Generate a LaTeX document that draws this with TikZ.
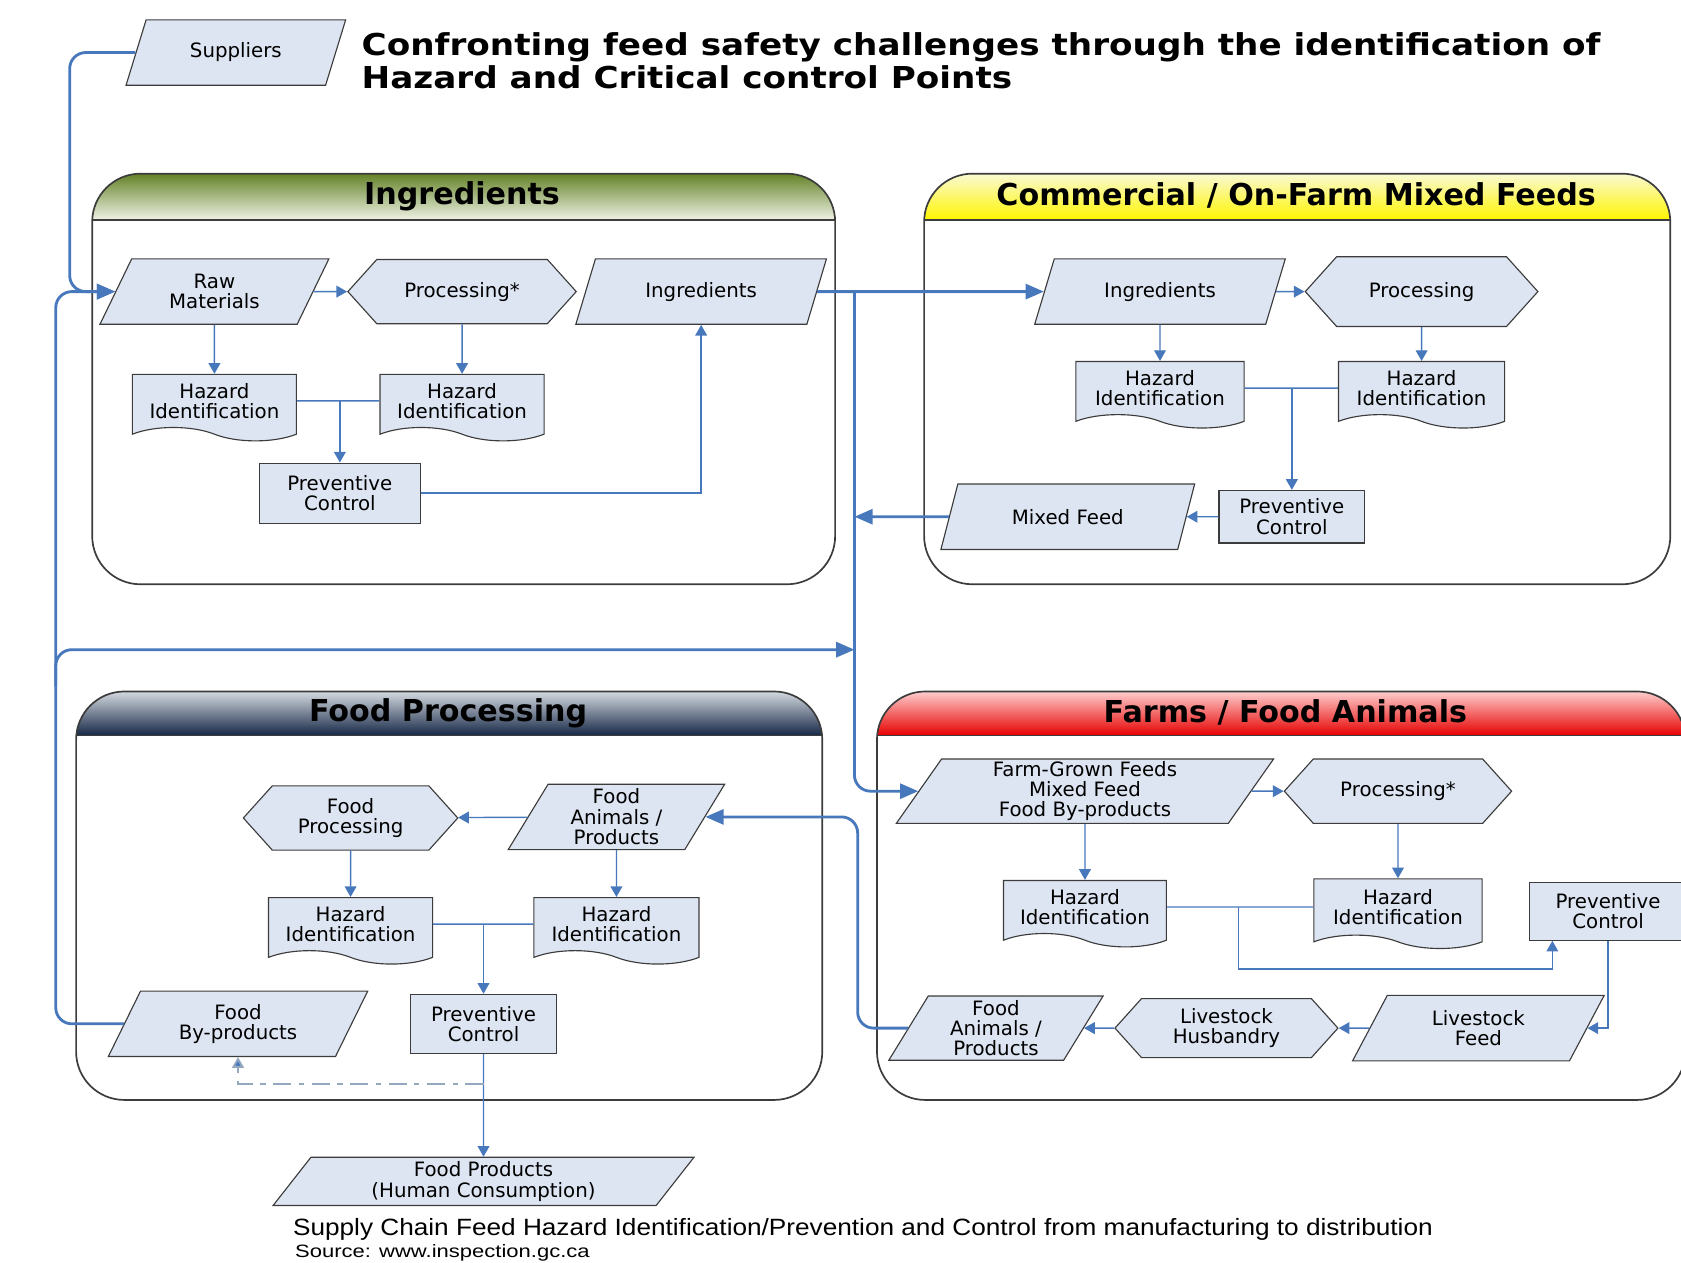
\documentclass[tikz,border=0pt]{standalone}
\usepackage{fontspec}
\setmainfont{DejaVu Sans}
\newfontfamily\capfont{Liberation Sans}
\usetikzlibrary{arrows.meta, shapes.geometric, shapes.symbols}

\definecolor{boxfill}{RGB}{221,229,242}
\definecolor{boxline}{RGB}{60,60,60}
\definecolor{flow}{RGB}{72,120,188}
\definecolor{dashflow}{RGB}{148,168,192}

\tikzset{
	lbl/.style={font=\fontsize{10.5}{10.8}\selectfont, align=center, fill=boxfill, draw=boxline, line width=0.6pt, inner sep=1pt},
	para/.style={lbl, trapezium, trapezium left angle=65, trapezium right angle=115, trapezium stretches=true, minimum height=12.2mm},
	hexa/.style={lbl, signal, signal to=west and east, signal pointer angle=96, minimum height=12mm},
	docu/.style={lbl, tape, tape bend top=none, tape bend bottom=out and in, tape bend height=2.5mm, minimum height=12.4mm},
	pbox/.style={lbl, rectangle, minimum height=11mm},
	link/.style={draw=flow, line width=0.75pt},
	bus/.style={draw=flow, line width=1.5pt, rounded corners=3mm, >={Triangle[length=3.4mm, width=2.8mm]}},
	panel/.style={draw=boxline, line width=0.9pt, rounded corners=9mm},
	head/.style={font=\fontsize{16}{18}\selectfont\bfseries},
}

\begin{document}
\begin{tikzpicture}[x=0.2mm, y=-0.2mm, >={Triangle[length=2mm, width=2.2mm]}]
	\useasboundingbox (0,0) rectangle (1568,1178);

	\node[anchor=west, align=left, inner sep=0pt, font=\fontsize{16}{17.6}\selectfont\bfseries] (title) at (337,57) {\scalebox{1.135}[1]{Confronting feed safety challenges through the identification of}\\\scalebox{1.135}[1]{Hazard and Critical control Points}};

	\begin{scope}
		\clip[rounded corners=9mm] (86,162) rectangle (779,545);
		\shade[top color={rgb,255:red,100;green,130;blue,40}, middle color={rgb,255:red,170;green,190;blue,120}, bottom color={rgb,255:red,238;green,242;blue,228}] (86,162) rectangle (779,205);
	\end{scope}
	\draw[panel] (86,162) rectangle (779,545);
	\draw[boxline, line width=0.9pt] (86,205) -- (779,205);
	\node[head] (inghead) at (431,183) {Ingredients};

	\begin{scope}
		\clip[rounded corners=9mm] (862,162) rectangle (1558,545);
		\shade[top color={rgb,255:red,250;green,250;blue,210}, middle color={rgb,255:red,255;green,250;blue,70}, bottom color={rgb,255:red,255;green,245;blue,0}] (862,162) rectangle (1558,205);
	\end{scope}
	\draw[panel] (862,162) rectangle (1558,545);
	\draw[boxline, line width=0.9pt] (862,205) -- (1558,205);
	\node[head] (mixhead) at (1209,182) {Commercial / On-Farm Mixed Feeds};

	\begin{scope}
		\clip[rounded corners=9mm] (71,645) rectangle (767,1026);
		\shade[top color={rgb,255:red,212;green,217;blue,224}, middle color={rgb,255:red,115;green,130;blue,150}, bottom color={rgb,255:red,22;green,40;blue,70}] (71,645) rectangle (767,686);
	\end{scope}
	\draw[panel] (71,645) rectangle (767,1026);
	\draw[boxline, line width=0.9pt] (71,686) -- (767,686);
	\node[head] (fphead) at (418,665) {Food Processing};

	\begin{scope}
		\clip[rounded corners=9mm] (818,645) rectangle (1572,1026);
		\shade[top color={rgb,255:red,255;green,205;blue,205}, middle color={rgb,255:red,245;green,40;blue,40}, bottom color={rgb,255:red,230;green,0;blue,0}] (818,645) rectangle (1572,686);
	\end{scope}
	\draw[panel] (818,645) rectangle (1572,1026);
	\draw[boxline, line width=0.9pt] (818,686) -- (1572,686);
	\node[head] (farmhead) at (1199,665) {Farms / Food Animals};

	\node[para, minimum width=41mm] (suppl) at (220,49) {Suppliers};

	\node[para, minimum width=42.8mm] (rawmat) at (200,272) {Raw\\Materials};
	\node[hexa, minimum width=42.6mm] (proc1) at (431,272) {Processing*};
	\node[para, minimum width=47mm] (ingr1) at (654,272) {Ingredients};
	\node[docu, minimum width=30.6mm] (haz1) at (200,374) {Hazard\\Identification};
	\node[docu, minimum width=30.6mm] (haz2) at (431,374) {Hazard\\Identification};
	\node[pbox, minimum width=30mm, minimum height=11.2mm] (prev1) at (317,460) {Preventive\\Control};

	\node[para, minimum width=47mm] (ingr2) at (1082,272) {Ingredients};
	\node[hexa, minimum width=43.4mm, minimum height=13mm] (proc2) at (1326,272) {Processing};
	\node[docu, minimum width=31.4mm] (haz3) at (1082,362) {Hazard\\Identification};
	\node[docu, minimum width=31mm] (haz4) at (1326,362) {Hazard\\Identification};
	\node[pbox, minimum width=27.2mm, minimum height=9.8mm] (prev2) at (1205,482) {Preventive\\Control};
	\node[para, minimum width=47.4mm] (mixfeed) at (996,482) {Mixed Feed};

	\node[hexa, minimum width=40mm] (foodproc) at (327,763) {Food\\Processing};
	\node[para, minimum width=40.6mm] (fanim1) at (575,762) {Food\\Animals /\\Products};
	\node[docu, minimum width=30.6mm] (haz5) at (327,862) {Hazard\\Identification};
	\node[docu, minimum width=30.8mm] (haz6) at (575,862) {Hazard\\Identification};
	\node[pbox, minimum width=27.2mm] (prev3) at (451,955) {Preventive\\Control};
	\node[para, minimum width=48.8mm] (byprod) at (222,955) {Food\\By-products};
	\node[para, trapezium left angle=60, trapezium right angle=120, minimum width=78.6mm, minimum height=9mm] (foodprod) at (451,1102) {Food Products\\(Human Consumption)};

	\node[para, minimum width=70.4mm, minimum height=12mm] (farmfeed) at (1012,738) {Farm-Grown Feeds\\Mixed Feed\\Food By-products};
	\node[hexa, minimum width=42.4mm] (proc3) at (1304,738) {Processing*};
	\node[docu, minimum width=30.4mm] (haz7) at (1012,846) {Hazard\\Identification};
	\node[docu, minimum width=31.4mm, minimum height=13mm] (haz8) at (1304,846) {Hazard\\Identification};
	\node[pbox, minimum width=29.4mm, minimum height=10.8mm] (prev4) at (1500,850) {Preventive\\Control};
	\node[para, minimum width=40.2mm, minimum height=12mm] (fanim2) at (929,959) {Food\\Animals /\\Products};
	\node[hexa, minimum width=41.6mm, minimum height=11mm] (husb) at (1144,959) {Livestock\\Husbandry};
	\node[para, minimum width=47mm] (lvfeed) at (1379,959) {Livestock\\Feed};

	\coordinate (suplft) at (65,272);
	\coordinate (fplft) at (52,606);
	\coordinate (fpbr) at (52,640);
	\coordinate (jtop) at (797,272);
	\coordinate (fparr) at (797,606);
	\coordinate (farmlft) at (800,959);
	\coordinate (ddot) at (451,1011);
	\coordinate (fj) at (1155,846);
	\coordinate (fjb) at (1448,904);

	\draw[link, ->] (rawmat) -- (proc1);
	\draw[link, ->] (rawmat) -- (haz1);
	\draw[link, ->] (proc1) -- (haz2);
	\draw[link] (haz1) -- (haz2);
	\draw[link, ->] (prev1 |- haz1) -- (prev1);
	\draw[link, ->] (prev1) -| (ingr1);

	\draw[link, ->] (ingr2) -- (proc2);
	\draw[link, ->] (ingr2) -- (haz3);
	\draw[link, ->] (proc2) -- (haz4);
	\draw[link] (haz3) -- (haz4);
	\draw[link, ->] (prev2 |- haz3) -- (prev2);
	\draw[link, ->] (prev2) -- (mixfeed);

	\draw[link, ->] (fanim1) -- (foodproc);
	\draw[link, ->] (foodproc) -- (haz5);
	\draw[link, ->] (fanim1) -- (haz6);
	\draw[link] (haz5) -- (haz6);
	\draw[link, ->] (prev3 |- haz5) -- (prev3);
	\draw[link, ->] (prev3) -- (foodprod);
	\draw[draw=dashflow, line width=1pt, dash pattern=on 9.6pt off 4pt on 2.8pt off 4pt, -{Triangle[length=2mm, width=2.2mm, fill=flow]}] (ddot) -| (byprod);

	\draw[link, ->] (farmfeed) -- (proc3);
	\draw[link, ->] (farmfeed) -- (haz7);
	\draw[link, ->] (proc3) -- (haz8);
	\draw[link] (haz7) -- (haz8);
	\draw[link, ->] (fj) |- (fjb) -- (fjb |- prev4.south);
	\draw[link, ->] (prev4) |- (lvfeed);
	\draw[link, ->] (lvfeed) -- (husb);
	\draw[link, ->] (husb) -- (fanim2);

	\draw[bus, ->] (suppl.west) -| (suplft) -- (rawmat.west);
	\draw[bus, ->] (byprod.west) -| (fplft) |- (rawmat.west);
	\draw[bus, ->] (fpbr) |- (fparr);
	\draw[bus, ->] (ingr1) -- (ingr2);
	\draw[bus, ->] (jtop) |- (farmfeed.west);
	\draw[bus, ->] (mixfeed) -- (mixfeed -| jtop);
	\draw[bus, ->] (fanim2.west) -- (farmlft) |- (fanim1.east);

	\node[anchor=west, inner sep=0pt, font=\capfont\fontsize{12.5}{14}\selectfont] (caption) at (273,1147) {\scalebox{1.112}[1]{Supply Chain Feed Hazard Identification/Prevention and Control from manufacturing to distribution}};
	\node[anchor=west, inner sep=0pt, font=\capfont\fontsize{9.5}{11}\selectfont] (source) at (275,1168.5) {\scalebox{1.23}[1]{Source: www.inspection.gc.ca}};
\end{tikzpicture}
\end{document}
